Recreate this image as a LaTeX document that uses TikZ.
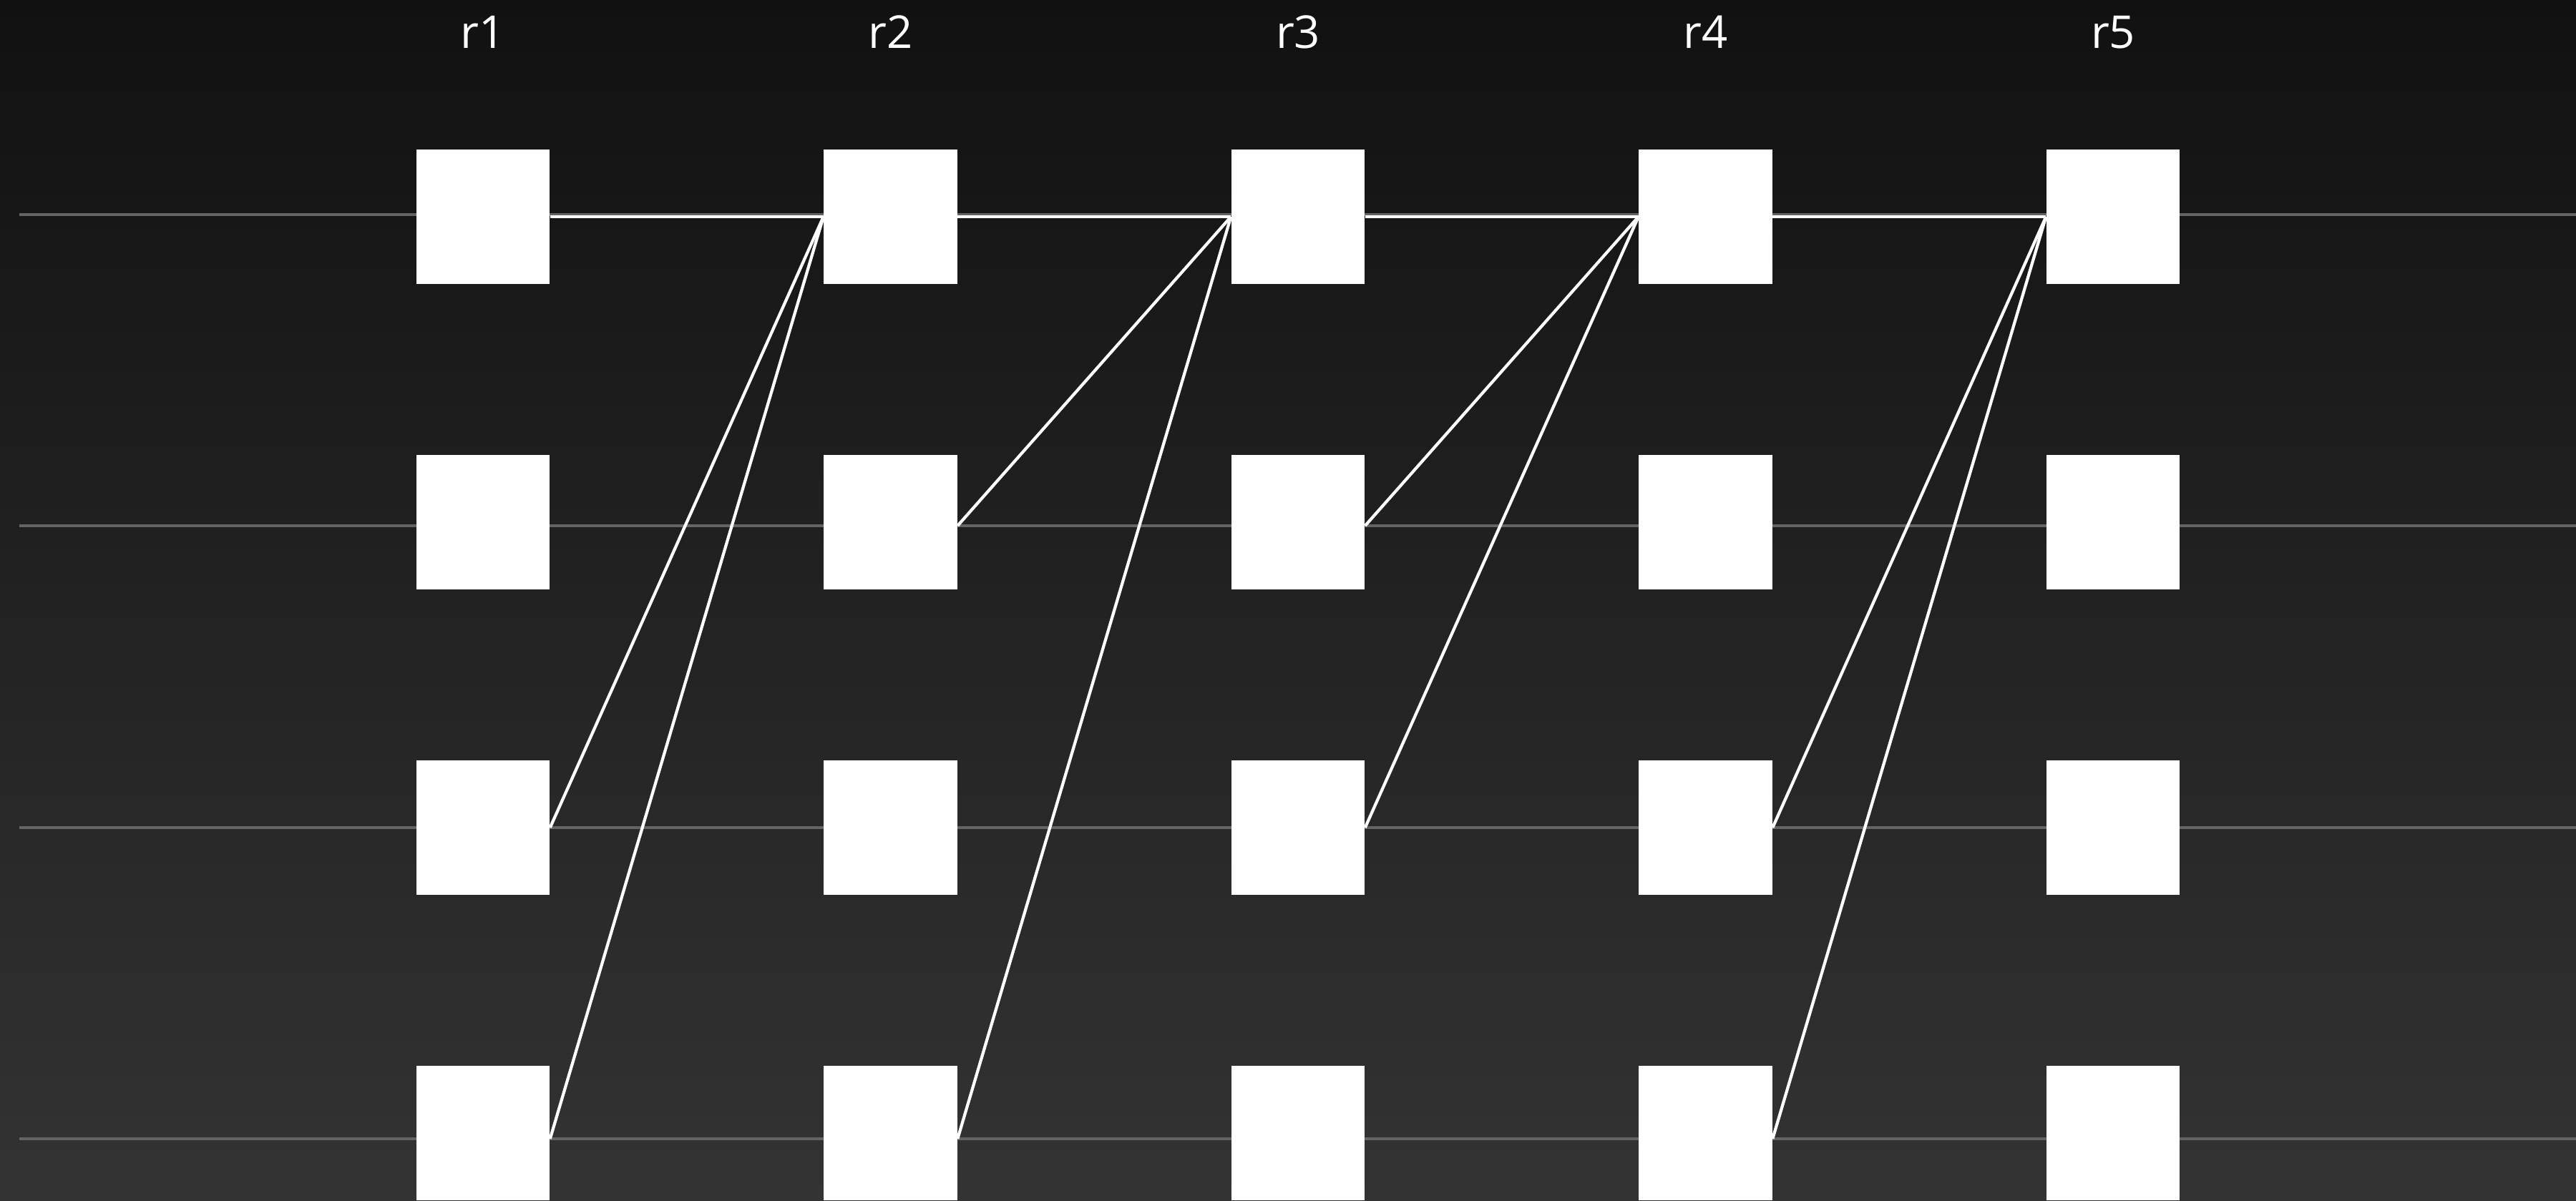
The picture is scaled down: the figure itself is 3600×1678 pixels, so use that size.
\documentclass[tikz,border=0pt]{standalone}
\usepackage{fontspec}
\setsansfont{Open Sans}
\definecolor{bgtop}{RGB}{17,17,17}
\definecolor{bgbot}{RGB}{51,51,51}
\definecolor{gridgray}{RGB}{100,100,100}
\begin{document}
\begin{tikzpicture}[x=0.01cm,y=-0.01cm,
  cell/.style={fill=white,draw=none,inner sep=0pt,minimum width=1.86cm,minimum height=1.88cm},
  collabel/.style={text=white,anchor=base,inner sep=0pt,font=\sffamily\fontsize{18}{20}\selectfont},
  rowline/.style={draw=gridgray,line width=0.9pt},
  conn/.style={draw=white,line width=1.2pt}]
\useasboundingbox (0,0) rectangle (3600,1678);
\shade[top color=bgtop,bottom color=bgbot] (0,0) rectangle (3600,1678);
% row guide lines
\foreach \k/\yy in {1/300,2/735,3/1157,4/1592}{
  \coordinate (gl\k) at (27,\yy);
  \coordinate (gr\k) at (3600,\yy);
  \draw[rowline] (gl\k) -- (gr\k);
}
% labels and cells
\foreach \i in {1,...,5}{
  \pgfmathsetmacro{\cx}{675+569.5*(\i-1)}
  \node[collabel] (lab\i) at (\cx,67) {r\i};
  \foreach \k/\yy in {1/303,2/730,3/1157,4/1584}{
    \node[cell] (c\i\k) at (\cx,\yy) {};
  }
}
% connectors: horizontal along the top row
\foreach \s/\t in {11/21,21/31,31/41,41/51}{
  \draw[conn] (c\s.east) -- (c\t.west);
}
% connectors: diagonal, leaving each source cell where its row line meets it
\foreach \s/\k/\t in {13/3/21,14/4/21,
                      22/2/31,24/4/31,
                      32/2/41,33/3/41,
                      43/3/51,44/4/51}{
  \draw[conn] (c\s.east |- gl\k) -- (c\t.west);
}
\end{tikzpicture}
\end{document}
